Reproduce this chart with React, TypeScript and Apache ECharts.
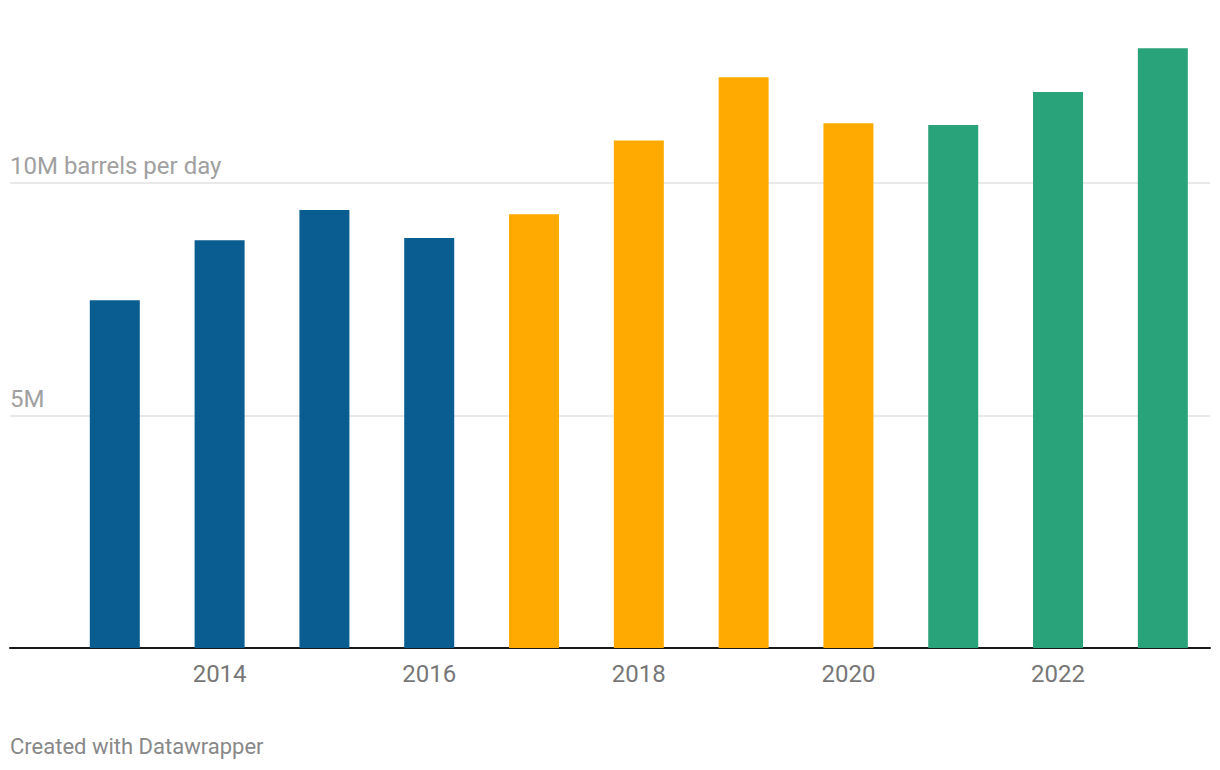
import React, { useEffect, useRef } from "react";
import * as echarts from "echarts";

const years = [2013, 2014, 2015, 2016, 2017, 2018, 2019, 2020, 2021, 2022, 2023];
const values = [7.48, 8.77, 9.42, 8.82, 9.33, 10.92, 12.28, 11.29, 11.25, 11.96, 12.9];
const groups = ["a", "a", "a", "a", "b", "b", "b", "b", "c", "c", "c"];
const groupColors: Record<string, string> = { a: "#0a5d91", b: "#ffaa00", c: "#29a37a" };
const xTickLabels = [2014, 2016, 2018, 2020, 2022];
const yTickLabels: Record<number, string> = { 5: "5M", 10: "10M barrels per day" };
const footer = "Created with Datawrapper";

export default function App() {
  const ref = useRef<HTMLDivElement>(null);
  useEffect(() => {
    if (!ref.current) return;
    const chart = echarts.init(ref.current, undefined, { renderer: "svg" });
    const font = "Roboto, 'Noto Sans', sans-serif";
    chart.setOption({
      animation: false,
      backgroundColor: "#ffffff",
      textStyle: { fontFamily: font },
      grid: { left: 10, right: 10, top: 0, bottom: 122, containLabel: false },
      xAxis: {
        type: "value",
        min: 2012,
        max: 2023.45,
        interval: 1,
        axisLine: { show: true, lineStyle: { color: "#1a1a1a", width: 2 } },
        axisTick: { show: false },
        splitLine: { show: false },
        axisLabel: {
          fontFamily: font,
          fontSize: 24,
          color: "#777777",
          margin: 14,
          showMinLabel: true,
          showMaxLabel: true,
          formatter: (v: number) => (xTickLabels.includes(Math.round(v)) && Math.abs(v - Math.round(v)) < 1e-6 ? String(Math.round(v)) : ""),
        },
      },
      yAxis: {
        type: "value",
        min: 0,
        max: 13.94,
        interval: 5,
        axisLine: { show: false },
        axisTick: { show: false },
        splitLine: { show: true, showMaxLine: false, lineStyle: { color: "#e2e2e2", width: 1.5 } },
        axisLabel: {
          inside: true,
          margin: 0,
          fontFamily: font,
          fontSize: 24,
          color: "#a0a0a0",
          verticalAlign: "bottom",
          align: "left",
          padding: [0, 0, 5, 0],
          showMaxLabel: false,
          formatter: (v: number) => yTickLabels[Math.round(v)] || "",
        },
      },
      series: [
        {
          type: "bar",
          barWidth: 50,
          data: years.map((y, i) => ({
            value: [y, values[i]],
            itemStyle: { color: groupColors[groups[i]] },
          })),
          z: 1,
        },
      ],
      graphic: [
        {
          type: "text",
          left: 10,
          top: 735,
          style: { text: footer, fontFamily: font, fontSize: 22, fill: "#888888" },
        },
      ],
    });
    return () => chart.dispose();
  }, []);
  return (
    <div
      ref={ref}
      style={{ position: "fixed", left: 0, top: 0, width: 1220, height: 770, background: "#fff" }}
    />
  );
}
